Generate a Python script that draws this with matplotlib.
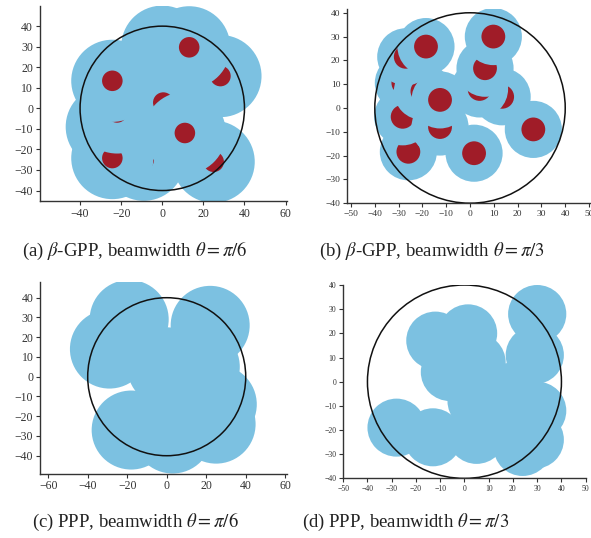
import matplotlib
matplotlib.use("Agg")
import matplotlib.pyplot as plt
from matplotlib.patches import Circle

plt.rcParams["font.family"] = ["Liberation Serif", "DejaVu Serif"]
plt.rcParams["mathtext.fontset"] = "stix"

# coverage radii of the two beamwidths, dot radius, ring radius
coverage_r_pi6 = 20
coverage_r_pi3 = 12
dot_r = 5
ring_r = 40

# node positions, drawing order matters for overlap
gpp_pi6_x = [-9, -27, -24.3, -22, 0.5, 25, 28.3, 0, -24.3, 11, 13.1]
gpp_pi6_y = [-25, -9, -24.2, -2, 2.8, -26, 15.7, 30, 13.4, -12, 29.7]

gpp_pi3_x = [-28, 13.5, 4, -25.9, -28.3, -20, -27, -12.6, 6.3, 1.7, -12.6, -18.5, 9.8, 26.6]
gpp_pi3_y = [10.5, 4.7, 8, -18.4, -3.7, 7, 21.5, -8, 16.7, -19, 3.4, 25.8, 30, -9]

ppp_pi6_x = [-19, -29, 22, 25.6, 25, -18, 3, 0, 17]
ppp_pi6_y = [29, 14, 26, -14, -24, -27, -29, 5, 5]

ppp_pi3_x = [30, -12, 1.5, -6, 5, 29, 30, 29, 24, -28, -13, 5, 5, 20, 15]
ppp_pi3_y = [28, 17, 20, 4, 8, 11, -12, -24, -27, -19, -23, -22, -8, -4, -14]

captions = [r"(a) $\beta$-GPP, beamwidth $\theta = \pi/6$",
            r"(b) $\beta$-GPP, beamwidth $\theta = \pi/3$",
            r"(c) PPP, beamwidth $\theta = \pi/6$",
            r"(d) PPP, beamwidth $\theta = \pi/3$"]

blue = "#7cc1e1"
red = "#a01c28"

W, H = 591, 538
fig = plt.figure(figsize=(W / 100, H / 100), dpi=100)


def rect(left, top, right, bottom):
    return [left / W, 1 - bottom / H, (right - left) / W, (bottom - top) / H]


def panel(box, xs, ys, r, dots, xlim, ylim, xticks, yticks, fs):
    ax = fig.add_axes(rect(*box))
    for x, y in zip(xs, ys):
        ax.add_patch(Circle((x, y), r, color=blue, lw=0))
        if dots:
            ax.add_patch(Circle((x, y), dot_r, color=red, lw=0))
    ax.add_patch(Circle((0, 0), ring_r, fill=False, ec="#111111", lw=1.1))
    ax.set_xlim(*xlim)
    ax.set_ylim(*ylim)
    ax.set_xticks(xticks)
    ax.set_yticks(yticks)
    ax.set_xticklabels([str(t).replace("-", "\u2212") for t in xticks])
    ax.set_yticklabels([str(t).replace("-", "\u2212") for t in yticks])
    for s in ["top", "right"]:
        ax.spines[s].set_visible(False)
    for s in ["left", "bottom"]:
        ax.spines[s].set_color("#333333")
        ax.spines[s].set_linewidth(1.0)
    ax.tick_params(length=3, width=0.8, color="#333333", labelsize=fs,
                   labelcolor="#333333", pad=2)
    return ax


panel((40, 5.6, 286.6, 200.8), gpp_pi6_x, gpp_pi6_y, coverage_r_pi6, True,
      (-59.5, 60.5), (-45, 50), range(-40, 61, 20), range(-40, 41, 10), 8.5)
panel((347.2, 9.2, 592.6, 203.2), gpp_pi3_x, gpp_pi3_y, coverage_r_pi3, True,
      (-51.6, 51.5), (-40, 41.5), range(-50, 51, 10), range(-40, 41, 10), 6.8)
panel((40.3, 281.9, 287.2, 473.5), ppp_pi6_x, ppp_pi6_y, coverage_r_pi6, False,
      (-64, 61), (-49, 48), range(-60, 61, 20), range(-40, 41, 10), 8.5)
panel((343.2, 285, 585.7, 478.4), ppp_pi3_x, ppp_pi3_y, coverage_r_pi3, False,
      (-50, 50), (-40, 40), range(-50, 51, 10), range(-40, 41, 10), 5.6)

cap_pos = [(135, 251), (432, 251), (135, 522), (406, 522)]
for (cx, cy), txt in zip(cap_pos, captions):
    fig.text(cx / W, 1 - cy / H, txt, ha="center", va="center", fontsize=13.5,
             color="#222222")

fig.savefig("out.png", dpi=100)
